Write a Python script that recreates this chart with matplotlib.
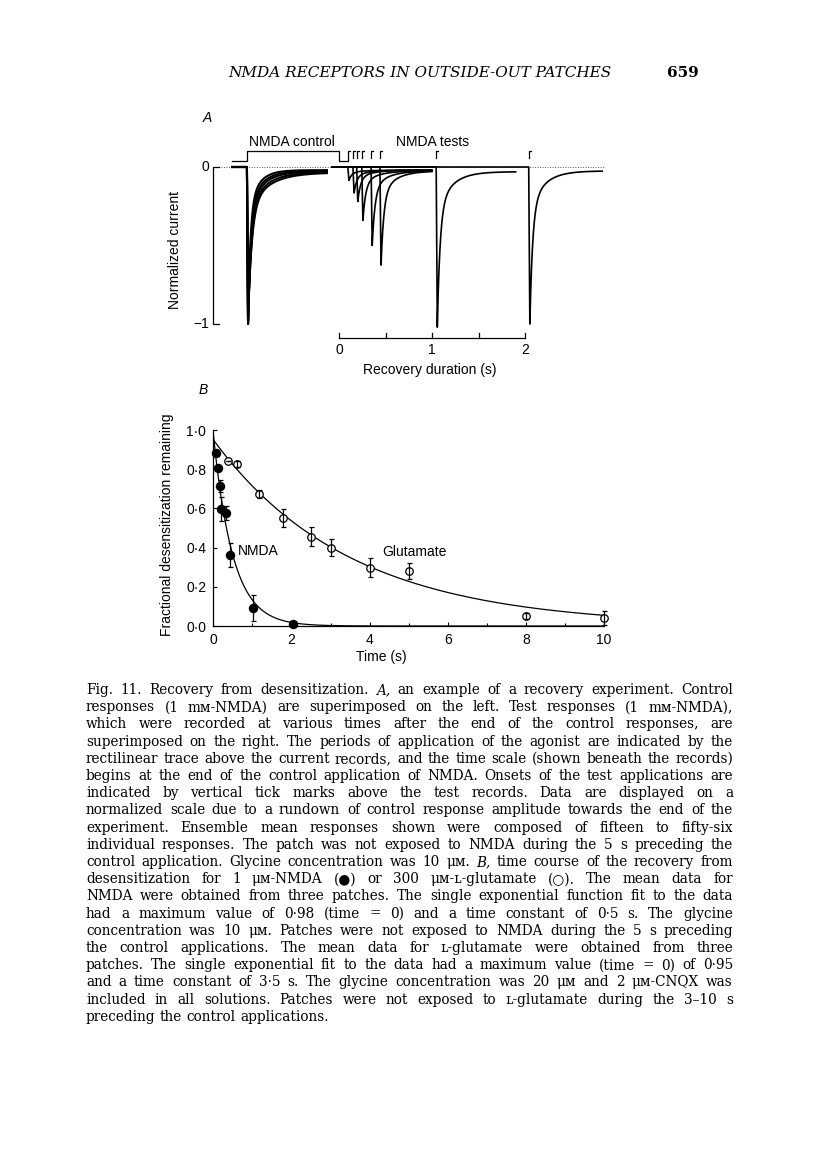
import numpy as np
import matplotlib
matplotlib.use("Agg")
import matplotlib.pyplot as plt

W, H = 816, 1176
SANS = "Liberation Sans"
SERIF = ["DejaVu Serif", "DejaVu Sans"]

# ---------------- panel A: recovery experiment (normalized current) -------------
app_on, app_off = -0.99, 0.0          # control application of NMDA (s)
ctrl_start, ctrl_end = -1.15, -0.13
ctrl_peak = [1.0, 1.0, 0.99, 0.98, 0.97]
ctrl_tau_fast = [0.025, 0.03, 0.033, 0.037, 0.04]
ctrl_tau_slow = [0.11, 0.13, 0.15, 0.18, 0.21]
ctrl_ss = [0.02, 0.025, 0.028, 0.032, 0.035]

test_start = -0.07
test_onset = [0.095, 0.15, 0.19, 0.245, 0.345, 0.44, 1.045, 2.04]
test_peak = [0.085, 0.165, 0.22, 0.34, 0.50, 0.625, 1.02, 1.0]
test_end = [1.0, 1.0, 1.0, 1.0, 1.0, 1.0, 1.9, 2.83]
test_ss = [0.02, 0.02, 0.02, 0.025, 0.025, 0.025, 0.03, 0.025]
test_tau_fast, test_tau_slow, test_frac = 0.03, 0.15, 0.75

recovery_ticks = [0, 0.5, 1, 1.5, 2]
recovery_labels = {0: "0", 1: "1", 2: "2"}

# ---------------- panel B: fractional desensitization remaining -----------------
nmda_t = [0.06, 0.11, 0.17, 0.20, 0.32, 0.43, 1.02, 2.03]
nmda_y = [0.884, 0.804, 0.714, 0.597, 0.578, 0.362, 0.093, 0.008]
nmda_err = [0.0, 0.0, 0.03, 0.06, 0.035, 0.06, 0.065, 0.0]
glu_t = [0.385, 0.6, 1.18, 1.79, 2.49, 3.0, 4.0, 5.0, 8.0, 10.0]
glu_y = [0.842, 0.828, 0.672, 0.55, 0.456, 0.40, 0.298, 0.282, 0.053, 0.04]
glu_err = [0.0, 0.015, 0.02, 0.045, 0.05, 0.045, 0.05, 0.04, 0.015, 0.035]
nmda_fit = (0.98, 0.5)     # max value, time constant (s)
glu_fit = (0.95, 3.5)
b_xticks = [0, 2, 4, 6, 8, 10]
b_yticks = [0.0, 0.2, 0.4, 0.6, 0.8, 1.0]
b_ylabels = ["0·0", "0·2", "0·4", "0·6", "0·8", "1·0"]

caption_lines = [
    "Fig. 11. Recovery from desensitization. *A, an example of a recovery experiment. Control",
    "responses (1 mᴍ-NMDA) are superimposed on the left. Test responses (1 mᴍ-NMDA),",
    "which were recorded at various times after the end of the control responses, are",
    "superimposed on the right. The periods of application of the agonist are indicated by the",
    "rectilinear trace above the current records, and the time scale (shown beneath the records)",
    "begins at the end of the control application of NMDA. Onsets of the test applications are",
    "indicated by vertical tick marks above the test records. Data are displayed on a",
    "normalized scale due to a rundown of control response amplitude towards the end of the",
    "experiment. Ensemble mean responses shown were composed of fifteen to fifty-six",
    "individual responses. The patch was not exposed to NMDA during the 5 s preceding the",
    "control application. Glycine concentration was 10 μᴍ. *B, time course of the recovery from",
    "desensitization for 1 μᴍ-NMDA (●) or 300 μᴍ-ʟ-glutamate (○). The mean data for",
    "NMDA were obtained from three patches. The single exponential function fit to the data",
    "had a maximum value of 0·98 (time = 0) and a time constant of 0·5 s. The glycine",
    "concentration was 10 μᴍ. Patches were not exposed to NMDA during the 5 s preceding",
    "the control applications. The mean data for ʟ-glutamate were obtained from three",
    "patches. The single exponential fit to the data had a maximum value (time = 0) of 0·95",
    "and a time constant of 3·5 s. The glycine concentration was 20 μᴍ and 2 μᴍ-CNQX was",
    "included in all solutions. Patches were not exposed to ʟ-glutamate during the 3–10 s",
    "preceding the control applications.",
]


def fx(px):
    return px / W


def fy(py):
    return 1 - py / H


def response(t, onset, peak, ss, tau_fast, tau_slow, frac, delay=0.012):
    y = np.zeros_like(t)
    tp = onset + delay
    r = (t >= onset) & (t < tp)
    y[r] = -peak * (t[r] - onset) / delay
    d = t >= tp
    dt = t[d] - tp
    y[d] = -(ss + (peak - ss) * (frac * np.exp(-dt / tau_fast) + (1 - frac) * np.exp(-dt / tau_slow)))
    return y


fig = plt.figure(figsize=(W / 100, H / 100), dpi=100)
fig.patch.set_facecolor("white")

# ---------------- panel A ----------------
# 93 px per second, t=0 at x=339 px; 157 px per unit current, 0 at y=167 px
axA = fig.add_axes([fx(208.8), fy(402.5), 399.9 / W, 274.75 / H])
axA.set_xlim(-1.40, 2.90)
axA.set_ylim(-1.5, 0.25)
axA.axis("off")

axA.plot([-1.27, 2.85], [0, 0], color="0.35", lw=0.7, ls=(0, (1, 1.6)), zorder=1)

for pk, tf_, ts_, ss in zip(ctrl_peak, ctrl_tau_fast, ctrl_tau_slow, ctrl_ss):
    t = np.arange(ctrl_start, ctrl_end, 0.0005)
    axA.plot(t, response(t, app_on, pk, ss, tf_, ts_, 0.75), color="black", lw=1.5, zorder=2)

for on, pk, end, ss in zip(test_onset, test_peak, test_end, test_ss):
    t = np.arange(test_start, end, 0.0005)
    axA.plot(t, response(t, on, pk, ss, test_tau_fast, test_tau_slow, test_frac),
             color="black", lw=1.2, zorder=2)

# application (rectilinear) trace and onset ticks
low, high, tick_bot, hook = 0.04, 0.105, 0.055, 0.02
axA.plot([ctrl_start, app_on, app_on, app_off, app_off, test_onset[0], test_onset[0], test_onset[0] + hook],
         [low, low, high, high, low, low, high, high], color="black", lw=0.9)
for on in test_onset[1:]:
    axA.plot([on, on, on + hook], [tick_bot, high, high], color="black", lw=0.9)

# current scale bar
xb = -1.36
axA.plot([xb + 0.075, xb, xb, xb + 0.075], [0, 0, -1, -1], color="black", lw=0.9)
axA.text(-1.40, 0, "0", ha="right", va="center", fontsize=10, family=SANS)
axA.text(-1.40, -1, "−1", ha="right", va="center", fontsize=10, family=SANS)

# recovery duration scale bar
yb = -1.092
axA.plot([recovery_ticks[0], recovery_ticks[-1]], [yb, yb], color="black", lw=0.9)
for tk in recovery_ticks:
    axA.plot([tk, tk], [yb, yb + 0.035], color="black", lw=0.9)
for tk, lab in recovery_labels.items():
    axA.text(tk, -1.166, lab, ha="center", va="center", fontsize=10, family=SANS)
axA.text(0.98, -1.29, "Recovery duration (s)", ha="center", va="center", fontsize=10, family=SANS)
axA.text(-0.51, 0.16, "NMDA control", ha="center", va="center", fontsize=10, family=SANS)
axA.text(1.01, 0.16, "NMDA tests", ha="center", va="center", fontsize=10, family=SANS)

fig.text(fx(175), fy(250), "Normalized current", rotation=90, ha="center", va="center",
         fontsize=10, family=SANS)
fig.text(fx(207), fy(118), "A", ha="center", va="center", fontsize=10, family=SANS, style="italic")

# ---------------- panel B ----------------
axB = fig.add_axes([fx(213.3), fy(626), 390.7 / W, 196 / H])
tf = np.linspace(0, 10, 500)
axB.plot(tf, nmda_fit[0] * np.exp(-tf / nmda_fit[1]), color="black", lw=0.9)
axB.plot(tf, glu_fit[0] * np.exp(-tf / glu_fit[1]), color="black", lw=0.9)
axB.errorbar(nmda_t, nmda_y, yerr=nmda_err, fmt="o", ms=5.8, mfc="black", mec="black",
             ecolor="black", elinewidth=0.9, capsize=1.8, capthick=0.9, clip_on=False, zorder=3)
axB.plot(glu_t, glu_y, "o", ms=5.4, mfc="white", mec="black", mew=0.9, clip_on=False, zorder=3)
axB.errorbar(glu_t, glu_y, yerr=glu_err, fmt="none", ecolor="black", elinewidth=0.9,
             capsize=1.8, capthick=0.9, clip_on=False, zorder=4)
axB.set_xlim(0, 10)
axB.set_ylim(0, 1.0)
for s in ["top", "right"]:
    axB.spines[s].set_visible(False)
for s in ["left", "bottom"]:
    axB.spines[s].set_linewidth(0.9)
axB.set_xticks(b_xticks)
axB.set_xticklabels([str(v) for v in b_xticks])
axB.set_xticks([1, 3, 5, 7, 9], minor=True)
axB.set_yticks(b_yticks)
axB.set_yticklabels(b_ylabels)
axB.tick_params(direction="in", length=3, width=0.8, labelsize=10, pad=5)
axB.tick_params(axis="x", which="minor", direction="in", length=2, width=0.8)
for lab in axB.get_xticklabels() + axB.get_yticklabels():
    lab.set_family(SANS)
axB.text(0.63, 0.385, "NMDA", ha="left", va="center", fontsize=10, family=SANS)
axB.text(4.32, 0.378, "Glutamate", ha="left", va="center", fontsize=10, family=SANS)
fig.text(fx(381), fy(657), "Time (s)", ha="center", va="center", fontsize=10, family=SANS)
fig.text(fx(167), fy(525), "Fractional desensitization remaining", rotation=90, ha="center",
         va="center", fontsize=10, family=SANS)
fig.text(fx(203), fy(390), "B", ha="center", va="center", fontsize=10, family=SANS, style="italic")

# ---------------- page header ----------------
renderer = fig.canvas.get_renderer()


def text_width(s, size, **kw):
    t = fig.text(0, 0, s, fontsize=size, **kw)
    w = t.get_window_extent(renderer).width
    t.remove()
    return w


title = "NMDA RECEPTORS IN OUTSIDE-OUT PATCHES"
tsize = 10 * 384 / text_width(title, 10, family=SERIF, style="italic")
fig.text(fx(420), fy(73), title, ha="center", va="center", fontsize=tsize, family=SERIF,
         style="italic")
fig.text(fx(683), fy(73), "659", ha="center", va="center", fontsize=tsize, family=SERIF,
         weight="bold")

# ---------------- caption (justified) ----------------
cap_left, cap_right = 86, 733
cap_w = cap_right - cap_left


def split_words(line):
    out = []
    for w in line.split(" "):
        if w.startswith("*"):
            out.append((w[1:], "italic"))
        else:
            out.append((w, "normal"))
    return out


space10 = text_width("x x", 10, family=SERIF) - text_width("xx", 10, family=SERIF)
nat = []
for line in caption_lines[:-1]:
    ws = split_words(line)
    nat.append(sum(text_width(w, 10, family=SERIF, style=st) for w, st in ws) + space10 * (len(ws) - 1))
csize = 10 * cap_w * 0.99 / max(nat)
space = space10 * csize / 10

for i, line in enumerate(caption_lines):
    ws = split_words(line)
    widths = [text_width(w, csize, family=SERIF, style=st) for w, st in ws]
    if i < len(caption_lines) - 1:
        gap = (cap_w - sum(widths)) / (len(ws) - 1)
    else:
        gap = space
    x = cap_left
    yb_px = 690 + 17.2 * i + 4
    for (w, st), wd in zip(ws, widths):
        fig.text(fx(x), fy(yb_px), w, ha="left", va="baseline", fontsize=csize, family=SERIF, style=st)
        x += wd + gap

fig.savefig("out.png", dpi=100, facecolor="white")
